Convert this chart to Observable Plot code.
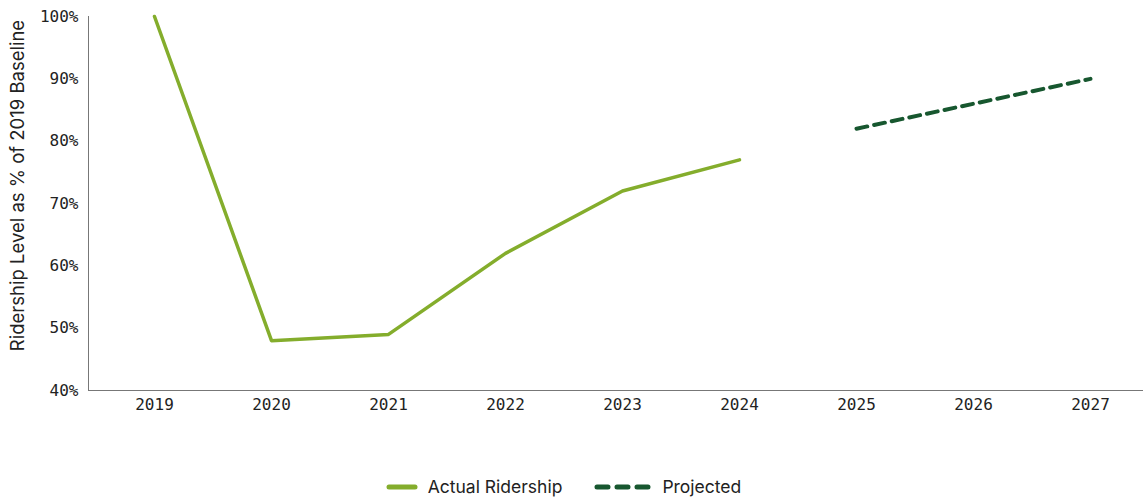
<!DOCTYPE html>
<html>
<head>
<meta charset="utf-8">
<script src="https://cdn.jsdelivr.net/npm/d3@7"></script>
<script src="https://cdn.jsdelivr.net/npm/@observablehq/plot@0.6"></script>
<style>
  body { margin: 0; background: #fff; font-family: Inter, "Noto Sans", sans-serif; }
  #legend { display: flex; justify-content: center; align-items: center; gap: 32px; font-size: 17.5px; color: #222; margin-top: 46px; padding-right: 16px; }
  .item { display: flex; align-items: center; gap: 10px; }
</style>
</head>
<body>
<div id="chart"></div>
<div id="legend"></div>
<script>
const actualYears = ["2019", "2020", "2021", "2022", "2023", "2024"];
const actualValues = [100, 48, 49, 62, 72, 77];
const projectedYears = ["2025", "2026", "2027"];
const projectedValues = [82, 86, 90];
const allYears = ["2019", "2020", "2021", "2022", "2023", "2024", "2025", "2026", "2027"];
const yTicks = [40, 50, 60, 70, 80, 90, 100];

const actualColor = "#84ad2c";
const projColor = "#17572f";

const actual = actualYears.map((y, i) => ({year: y, value: actualValues[i]}));
const projected = projectedYears.map((y, i) => ({year: y, value: projectedValues[i]}));

const chart = Plot.plot({
  width: 1143,
  height: 430,
  marginLeft: 88,
  marginRight: 0,
  marginTop: 16,
  marginBottom: 40,
  style: {fontFamily: "'DejaVu Sans Mono', monospace", fontSize: "16px", color: "#222"},
  x: {type: "point", domain: allYears, padding: 0.5, insetLeft: 7, insetRight: -6},
  y: {domain: [40, 100]},
  marks: [
    Plot.axisX({tickSize: 0, tickPadding: 8, label: null, fontSize: 16}),
    Plot.axisY({ticks: yTicks, tickSize: 0, tickPadding: 10, tickFormat: d => d + "%", label: null, fontSize: 16}),
    Plot.text(["Ridership Level as % of 2019 Baseline"], {frameAnchor: "left", textAnchor: "middle", dx: -70, dy: -18, rotate: -90, fontFamily: "Inter, sans-serif", fontSize: 18.5, fill: "#222"}),
    Plot.frame({anchor: "left", stroke: "#777"}),
    Plot.ruleY([40], {stroke: "#777"}),
    Plot.line(actual, {x: "year", y: "value", stroke: actualColor, strokeWidth: 3.5}),
    Plot.line(projected, {x: "year", y: "value", stroke: projColor, strokeWidth: 4, strokeDasharray: "11 7", strokeLinecap: "round"})
  ]
});
document.getElementById("chart").appendChild(chart);

const legendItems = [
  {label: "Actual Ridership", color: actualColor, dash: null},
  {label: "Projected", color: projColor, dash: "11 9"}
];
const legend = document.getElementById("legend");
for (const it of legendItems) {
  const d = document.createElement("div");
  d.className = "item";
  const w = it.dash ? 58 : 32;
  d.innerHTML = `<svg width="${w}" height="10"><line x1="3" y1="5" x2="${w - 3}" y2="5" stroke="${it.color}" stroke-width="5" stroke-linecap="round" ${it.dash ? `stroke-dasharray="${it.dash}"` : ""}/></svg><span>${it.label}</span>`;
  legend.appendChild(d);
}
</script>
</body>
</html>
